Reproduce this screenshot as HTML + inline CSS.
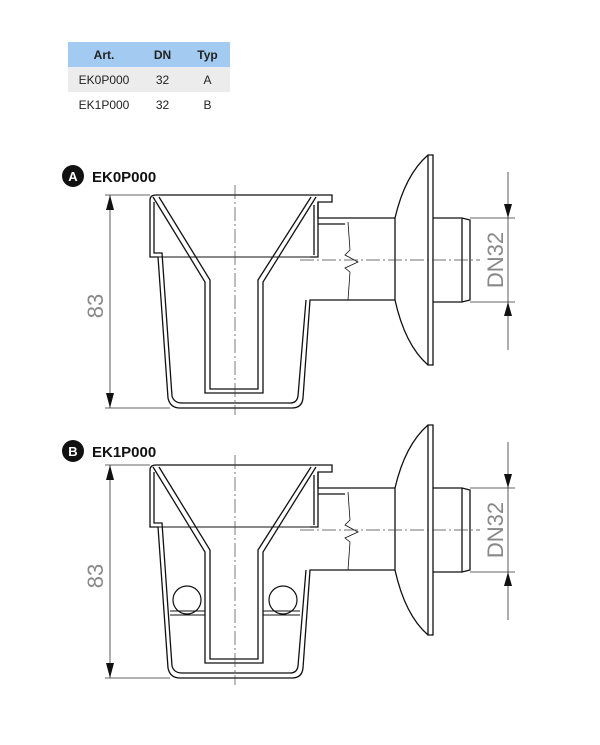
<!DOCTYPE html>
<html><head><meta charset="utf-8"><style>
body{margin:0;background:#fff;width:600px;height:745px;overflow:hidden;font-family:"Liberation Sans",sans-serif}
table{position:absolute;left:68px;top:42px;border-collapse:collapse;font-size:12px;color:#222;table-layout:fixed;width:162px}
td{height:25px;text-align:center;padding:0}
th{height:25px;background:#a3cbf2;font-weight:bold;font-size:12px;color:#222;padding:0}
</style></head><body>
<table>
<colgroup><col style="width:72px"><col style="width:45px"><col style="width:45px"></colgroup>
<tr><th>Art.</th><th>DN</th><th>Typ</th></tr>
<tr style="background:#ececec"><td>EK0P000</td><td>32</td><td>A</td></tr>
<tr><td>EK1P000</td><td>32</td><td>B</td></tr>
</table>
<svg width="600" height="745" style="position:absolute;left:0;top:0">
<defs>
<g id="d" fill="none" stroke="#111" stroke-width="1.3">
 <path d="M150,200 Q150,195 156,195 L332,195 L332,202 L318,202 L318,218 L395,218"/>
 <path d="M150,200 L150,257 L158,257 L168,398 Q170,408 180,408 L292,408 Q302,408 303,398 L310,300 L395,300"/>
 <path d="M154,202 L154,253 L162,253 L172,396 Q174,403 182,403 L290,403 Q297,403 298,396 L306,300"/>
 <path d="M318,202 L318,257 L310,257 M314,205 L314,255 M318,224 L345,224"/>
 <path d="M158,257 L310,257" stroke-width="1"/>
 <path d="M153,197 L205,282 L205,393 L263,393 L263,282 L316,197"/>
 <path d="M159,197 L210,280 L210,389 L258,389 L258,280 L311,197"/>
 <path d="M348,222 L350,250 L345,255 L358,262 L345,268 L350,272 L348,300" stroke-width="0.8"/>
 <path d="M395,218 L395,300 M395,218 Q405,175 428,155 L433,155 L433,365 L428,365 Q405,345 395,300 M428,155 L428,365"/>
 <path d="M433,218 L462,218 L470,220 L470,300 L462,302 L433,302 M462,218 L462,302"/>
 <path d="M235,185 L235,415 M300,260 L480,260" stroke="#444" stroke-width="0.7" stroke-dasharray="14,3,2,3"/>
 <path d="M105,195 L150,195 M105,408 L170,408 M110,195 L110,408 M470,218 L515,218 M470,302 L515,302 M508,172 L508,350" stroke="#333" stroke-width="0.8"/>
 <path d="M110,195 L106,210 L114,210Z M110,408 L106,393 L114,393Z M508,218 L504,204 L512,204Z M508,302 L504,316 L512,316Z" fill="#111" stroke="none"/>
</g>
</defs>
<use href="#d"/>
<use href="#d" transform="translate(0,270)"/>
<g fill="none" stroke="#111" stroke-width="1.2">
 <circle cx="187" cy="600" r="14"/><circle cx="283" cy="600" r="14"/>
 <path d="M170,615 L205,615 M263,615 L300,615 M170,611 L205,611 M263,611 L300,611" stroke-width="0.9"/>
</g>
<g font-family="Liberation Sans,sans-serif" fill="#888" font-size="22">
 <text transform="translate(103,306) rotate(-90)" text-anchor="middle">83</text>
 <text transform="translate(503,260) rotate(-90)" text-anchor="middle">DN32</text>
 <text transform="translate(103,576) rotate(-90)" text-anchor="middle">83</text>
 <text transform="translate(503,530) rotate(-90)" text-anchor="middle">DN32</text>
</g>
<circle cx="73" cy="176" r="11" fill="#111"/><text x="73" y="181" fill="#fff" font-size="13" font-weight="bold" text-anchor="middle">A</text>
<text x="92" y="182" font-size="15" font-weight="bold" fill="#111">EK0P000</text>
<circle cx="73" cy="451" r="11" fill="#111"/><text x="73" y="456" fill="#fff" font-size="13" font-weight="bold" text-anchor="middle">B</text>
<text x="92" y="457" font-size="15" font-weight="bold" fill="#111">EK1P000</text>
</svg>
</body></html>
